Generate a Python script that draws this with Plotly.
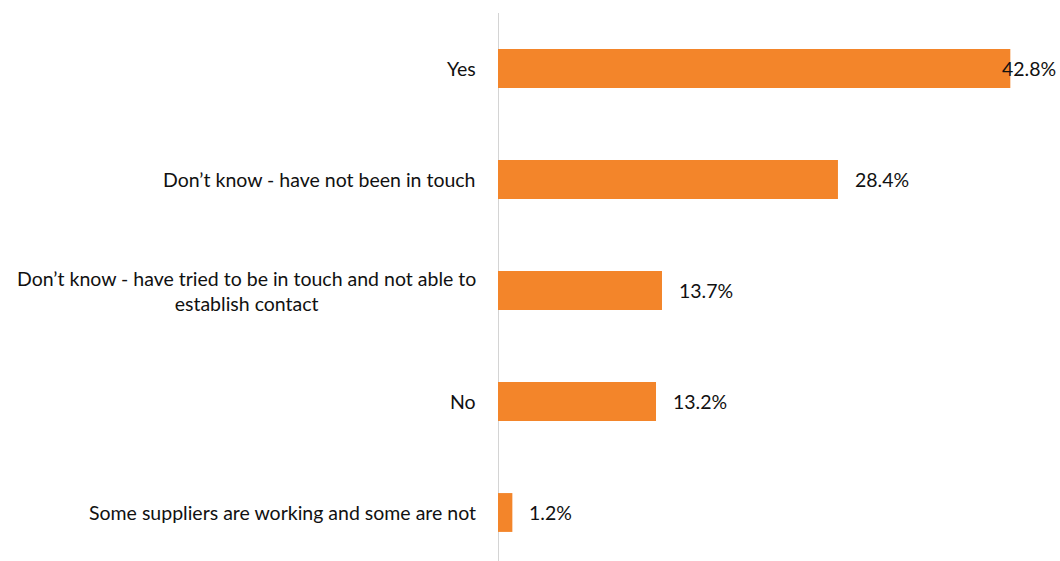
import plotly.graph_objects as go

# Survey responses and their shares (%)
categories = [
    "Yes",
    "Don’t know - have not been in touch",
    "Don’t know - have tried to be in touch and not able to<br>establish contact",
    "No",
    "Some suppliers are working and some are not",
]
values = [42.8, 28.4, 13.7, 13.2, 1.2]
value_labels = ["42.8%", "28.4%", "13.7%", "13.2%", "1.2%"]

W, H = 1060, 561
M_LEFT, M_RIGHT, M_TOP = 498, 0, 13
X_MAX = 46.95
BAR_COLOR = "#F3852A"
FONT = "Lato, 'Open Sans', sans-serif"
FONT_SIZE = 19.5
TEXT_COLOR = "#111111"

idx = list(range(len(categories)))

fig = go.Figure(
    go.Bar(
        x=values,
        y=idx,
        orientation="h",
        marker=dict(color=BAR_COLOR, line=dict(width=0)),
        width=0.35,
        hoverinfo="skip",
    )
)

annotations = []
# category names, left of the axis
for i, name in zip(idx, categories):
    annotations.append(dict(
        x=0, xref="paper", y=i, yref="y",
        text=name, showarrow=False,
        xanchor="right", yanchor="middle", align="center",
        xshift=-20,
        font=dict(family=FONT, size=FONT_SIZE, color=TEXT_COLOR),
    ))

# value labels just past the bar end; kept inside the plot when they would overflow
plot_w = W - M_LEFT - M_RIGHT
px_per_unit = plot_w / X_MAX
label_gap = 15
for i, v, lab in zip(idx, values, value_labels):
    est_w = 10.8 * len(lab)
    right_edge = v * px_per_unit + label_gap + est_w
    if right_edge > plot_w:
        annotations.append(dict(
            x=1, xref="paper", y=i, yref="y", text=lab, showarrow=False,
            xanchor="right", yanchor="middle", xshift=-2,
            font=dict(family=FONT, size=FONT_SIZE, color=TEXT_COLOR),
        ))
    else:
        annotations.append(dict(
            x=v, xref="x", y=i, yref="y", text=lab, showarrow=False,
            xanchor="left", yanchor="middle", xshift=label_gap,
            font=dict(family=FONT, size=FONT_SIZE, color=TEXT_COLOR),
        ))

# the vertical axis line running down the full plot height
fig.add_shape(type="line", xref="x", yref="paper", x0=0, x1=0, y0=0, y1=1,
              line=dict(color="#d4d4d4", width=2), layer="below")

fig.update_layout(
    width=W, height=H,
    margin=dict(l=M_LEFT, r=M_RIGHT, t=M_TOP, b=0, pad=0),
    paper_bgcolor="white", plot_bgcolor="white",
    showlegend=False,
    annotations=annotations,
    xaxis=dict(range=[0, X_MAX], visible=False, fixedrange=True),
    yaxis=dict(range=[4.437, -0.5], visible=False, fixedrange=True),
)

fig.write_html("out.html")
